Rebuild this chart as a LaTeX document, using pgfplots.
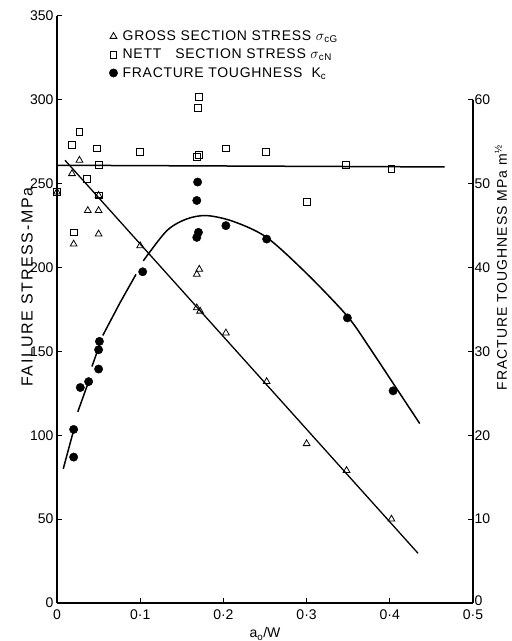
\documentclass[border=0pt]{standalone}
\usepackage{fontspec}
\setmainfont{Liberation Sans}
\newfontfamily\lsp{Liberation Sans}[LetterSpace=5]
\newfontfamily\lspr{Liberation Sans}[LetterSpace=7]
\newfontfamily\lspw{Liberation Sans}[LetterSpace=10]
\usepackage{pgfplots}
\pgfplotsset{compat=1.18}
\begin{document}
\begin{tikzpicture}
\useasboundingbox (-57pt,-38pt) rectangle (455pt,603pt);
\begin{axis}[
  at={(0,0)}, anchor=south west, scale only axis,
  width=416pt, height=587pt,
  xmin=0, xmax=0.5, ymin=0, ymax=350,
  axis x line*=bottom, axis y line*=left,
  axis line style={line width=1.6pt,-},
  xtick={0,0.1,0.2,0.3,0.4,0.5},
  xticklabels={0,0·1,0·2,0·3,0·4,0·5},
  ytick={0,50,100,150,200,250,300,350},
  tick align=inside, major tick length=5pt,
  tick style={line width=1pt,black},
  ticklabel style={font=\fontsize{14}{16}\selectfont},
  xticklabel style={yshift=-3pt},
  /pgf/number format/assume math mode=true,
  clip=false,
  xlabel={a\textsubscript{o}/W},
  xlabel style={at={(axis description cs:0.5,0)}, anchor=center, yshift=-31pt, font=\fontsize{14}{16}\selectfont},
  ylabel={FAILURE STRESS-MPa},
  ylabel style={at={(axis description cs:-0.072,0.538)}, anchor=center, font=\lspw\fontsize{16}{18}\selectfont},
  legend style={at={(axis description cs:0.118,0.982)}, anchor=north west, draw=none, fill=none,
    font=\lsp\fontsize{14}{16}\selectfont, row sep=3pt,
    /tikz/every odd column/.append style={column sep=3pt}},
  legend cell align=left,
]
\addplot[only marks, mark=triangle, mark size=3.9pt, mark options={line width=0.8pt, fill=white}] coordinates {
(0,245) (0.018,256) (0.027,264) (0.02,214) (0.037,234) (0.05,234) (0.05,220) (0.05,243)
(0.1,213) (0.168,176) (0.172,174) (0.168,196) (0.171,199) (0.203,161) (0.252,132)
(0.300,95) (0.348,79) (0.402,50)
};
\addlegendentry{GROSS SECTION STRESS $\sigma$\textsubscript{cG}}
\addplot[only marks, mark=square, mark size=3.4pt, mark options={line width=0.8pt, fill=white}] coordinates {
(0,245) (0.018,273) (0.027,281) (0.048,271) (0.05,261) (0.036,253) (0.05,243) (0.02,221)
(0.1,269) (0.171,302) (0.169,295) (0.168,266) (0.171,267) (0.203,271) (0.251,269)
(0.300,239) (0.347,261) (0.402,259)
};
\addlegendentry{NETT\quad SECTION STRESS $\sigma$\textsubscript{cN}}
\addlegendimage{only marks, mark=*, mark size=4.2pt, black}
\addlegendentry{FRACTURE TOUGHNESS\ \ K\textsubscript{c}}
\addplot[line width=1.5pt, forget plot] coordinates {(0,261) (0.466,260)};
\addplot[line width=1.3pt, forget plot] coordinates {(0.0096,264) (0.434,29.6)};
\end{axis}
\begin{axis}[
  at={(0,0)}, anchor=south west, scale only axis,
  width=416pt, height=587pt,
  xmin=0, xmax=0.5, ymin=0, ymax=70,
  axis x line=none, axis y line*=right,
  y axis line style={draw=none},
  ytick={0,10,20,30,40,50,60},
  yticklabels={\raisebox{5pt}{0},10,20,30,40,50,60},
  tick align=inside, major tick length=5pt,
  tick style={line width=1pt,black},
  ticklabel style={font=\fontsize{14}{16}\selectfont},
  yticklabel style={xshift=-2pt},
  clip=false,
  ylabel={FRACTURE TOUGHNESS MPa m\textsuperscript{½}},
  ylabel style={at={(axis description cs:1.067,0.571)}, anchor=center, font=\lspr\fontsize{14}{16}\selectfont},
]
\draw[line width=1.6pt] (axis cs:0.5,0) -- (axis cs:0.5,60);
\addplot[only marks, mark=*, mark size=4.2pt, black] coordinates {
(0.02,20.7) (0.02,17.4) (0.028,25.7) (0.038,26.4) (0.05,27.9) (0.05,30.2) (0.051,31.2)
(0.103,39.5) (0.169,50.2) (0.168,48) (0.170,44.2) (0.168,43.6) (0.203,45) (0.252,43.4)
(0.349,34) (0.404,25.3)
};
\addplot[line width=1.5pt] coordinates {(0.0075,16) (0.02,20.6)};
\addplot[line width=1.5pt] coordinates {(0.025,22.8) (0.038,26.4)};
\addplot[line width=1.5pt] coordinates {(0.042,28.2) (0.052,31)};
\addplot[line width=1.5pt] coordinates {(0.055,31.9) (0.0757,35.8) (0.095,39.2)};
\addplot[line width=1.5pt, smooth] coordinates {
(0.1037,40.8) (0.132,44.4) (0.156,45.8) (0.18,46.2) (0.212,45.5) (0.252,43.6)
(0.3,39.3) (0.349,34.2) (0.376,30.4) (0.404,26.2) (0.436,21.4)
};
\end{axis}
\end{tikzpicture}
\end{document}
